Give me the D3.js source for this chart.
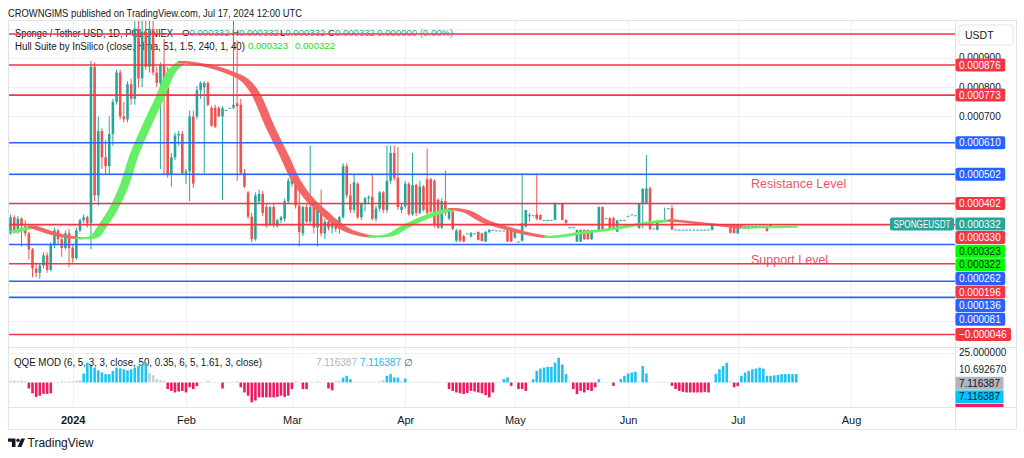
<!DOCTYPE html>
<html>
<head>
<meta charset="utf-8">
<script src="https://cdn.jsdelivr.net/npm/d3@7"></script>
<style>
  body { margin: 0; background: #fff; }
  svg text { font-family: "Liberation Sans", Arial, sans-serif; }
</style>
</head>
<body>
<svg id="chart" width="1024" height="458"></svg>
<script>
// Daily candles, prices in millionths of USDT (µUSDT), first bar Dec 15 2023
var startDay = new Date(2023, 11, 15);

var opens = [
  300,355,310,350,325,300,245,180,165,190, 225,175,260,310,280,250,300,250,215,310,
  345,355,335,870,430,650,560,530,640,750, 850,700,690,810,760,1000,830,990,870,1000,
  850,815,875,800,500,560,635,640,506,512, 700,700,790,800,815,730,730,730,700,722,
  730,730,745,740,506,440,357,280,410,435, 390,330,390,325,345,350,410,470,495,395,
  300,390,340,390,320,380,300,340,320,345, 315,355,530,430,380,470,355,400,420,425,
  350,385,440,380,480,575,490,380,392,470, 365,465,370,460,485,485,480,415,320,410,
  350,375,275,310,290,300,290,300,305,300, 272,305,312,310,310,310,310,310,285,272,
  275,323,360,362,365,363,346,346,346,346, 403,403,346,321,321,272,272,312,312,280,
  312,312,390,352,352,352,306,346,346,360, 365,362,318,403,403,454,317,312,340,340,
  386,386,313,313,313,313,313,313,313,313, 313,313,312,329,329,329,329,329,329,300,
  321,325,325,325,325,325,325,324,325,332, 332,332,332,332,332,332
];
var highs = [
  365,362,360,355,345,305,250,200,200,235, 235,270,320,315,290,310,315,260,320,350,
  365,360,890,885,700,660,620,700,760,860, 860,750,820,830,1040,1040,1040,1040,1040,1040,
  870,885,965,870,575,645,650,650,520,720, 720,805,820,820,820,735,740,735,735,722,
  730,1040,960,760,520,445,370,440,450,445, 400,395,400,350,360,420,490,500,500,440,
  395,400,600,420,400,450,350,360,350,350, 360,540,540,470,500,475,405,425,430,500,
  395,445,445,600,600,600,595,400,480,475, 575,470,480,465,590,490,485,420,420,515,
  385,380,315,315,295,300,305,300,306,302, 308,315,312,310,310,310,312,312,310,272,
  505,380,370,362,505,365,346,346,346,406, 403,405,348,321,321,312,312,313,314,312,
  312,392,392,352,355,356,346,346,346,360, 365,362,404,455,568,460,317,342,340,388,
  386,397,313,313,313,313,313,313,313,313, 313,313,331,329,329,329,329,330,330,330,
  330,325,325,325,325,325,325,325,330,332, 332,332,332,332,332,332
];
var lows = [
  295,300,300,255,290,210,150,150,145,180, 165,170,250,260,220,245,185,200,210,305,
  335,320,245,410,395,520,500,500,600,740, 690,680,680,740,740,800,800,860,850,840,
  800,520,500,490,460,550,600,500,470,410, 455,690,760,505,735,665,660,698,414,722,
  730,725,480,500,455,350,270,275,400,360, 320,325,320,320,335,340,400,460,385,255,
  290,335,330,300,255,290,280,310,300,305, 300,350,420,370,370,350,345,375,400,345,
  340,375,370,370,470,480,380,370,385,360, 360,360,365,375,365,370,320,315,315,360,
  345,310,270,270,270,300,285,300,276,272, 270,300,312,310,310,310,270,270,282,272,
  272,320,340,362,345,345,346,346,346,345, 403,346,334,321,321,270,270,278,278,278,
  312,310,312,352,312,312,305,346,346,360, 365,362,316,318,400,312,317,310,340,338,
  386,312,313,313,313,313,313,313,313,313, 313,313,310,329,329,329,329,300,300,298,
  320,325,325,325,325,325,325,306,324,332, 332,332,332,332,332,332
];
var closes = [
  355,310,350,325,300,245,180,165,190,225, 175,260,310,280,250,300,250,215,310,345,
  355,335,870,430,650,560,530,640,750,850, 700,690,810,760,1000,830,990,870,1000,850,
  815,875,800,500,560,635,640,506,512,700, 470,790,815,815,740,668,665,700,728,722,
  730,740,735,506,460,357,280,430,435,370, 325,390,330,345,355,410,480,495,395,305,
  390,340,390,320,380,300,340,320,345,315, 355,530,430,380,475,355,400,420,425,350,
  385,440,380,480,575,490,390,392,470,365, 465,370,460,380,370,375,330,320,410,370,
  380,315,310,275,272,300,300,300,278,274, 305,312,312,310,310,310,272,272,308,272,
  335,380,362,362,350,347,346,346,346,403, 403,346,335,321,321,312,312,280,280,310,
  312,390,315,352,314,315,344,346,346,360, 365,362,400,452,454,314,317,340,340,342,
  386,313,313,313,313,313,313,313,313,313, 313,313,329,329,329,329,329,302,301,329,
  329,325,325,325,325,325,325,308,329,332, 332,332,332,332,332,332
];

// Hull Suite (HMA) read at key bars; the second band edge is the same line 2 bars later
var hullIdx = [0,5,12,18,22,24,27,30,33,37, 40,43,46,52,57,63,66,70,74,77,
               81,85,87,91,95,98,103,107,112,117, 120,124,129,135,140,146,150,156,163,170,
               176,180,186,192,200,207,215];
var hullVal = [305,323,295,283,289,323,380,460,574,688, 768,853,887,876,859,825,779,665,563,483,
               414,369,346,312,295,289,295,323,352,374, 384,374,340,317,300,287,291,303,314,329,
               340,344,337,329,319,321,323];
var hullLegend = [323, 322];

// Horizontal drawn levels (µUSDT) and their colour kind
var levelPrices = [982, 876, 773, 610, 502, 402, 330, 262, 196, 136, 81, -46];
var levelKinds  = ["r","r","r","b","b","r","r","b","r","b","b","r"];
var lastPrice = 332;

// QQE MOD histogram, one value per bar, and its colour state runs (u up, d down, n neutral)
var qqeVals = [
  1.5,1.5,1,1.5,1, -5,-9,-12,-11,-9.5,-9.5,-9, 0.5,0.5,1,0.5,1,1,1.5,2,
  7.5,16.5,13.8,12.4,10.2,8.3,7,7,9.7,12.4,11.8,11,10.2,11,12.4,13.8,15,16.5,
  8,6,3,2,1.5, -5.5,-7,-8.3,-7.5,-7,-8.3,-4,-5.5,-3, 0.5,0.5,1.5,0.5,0.5,0.5, -5,
  0.5,0.5,0.5,1, -4,-8.3,-11,-16.5,-15,-12.4,-12.4,-12.4,-12.4,-12.4,-12,-11,-12,-11,-5.5,
  1,0.5, -5.5,-5.5, 0.5,0.5,1,0.5,0.5, -5,-6.5, 1,1.5, 4,5.6,2.8,
  0.5,0.5,0.5,0.5,0.5,0.5,0.5,1,2, 5.6,7,4.2,4, 1, 3.3,
  0.5,0.5,0.5,0.5,0.5,0.5,0.5,0.5,0.5,0.5,0.5,
  -5.5,-7,-8.3,-9,-9.6,-8.7,-7,-7.5,-8.3,-9,-10.5,-12.4,-8.3, 0.5,0.5, 2.8,4.2, -2.8, 0.5,
  -5.5,-5.5,-7, 0.5, 2.8,9.7,11.6,12.4,13,13,16.5,20.6,15,7, 0.5,
  -5.5,-9.6,-7,-8.3,-6.3,-7,-4, 2.8, 0.5,0.5,0.5, -2.8, 0.5, 2.8,5.6,7.5,8.3,9, 1, 13.8,7.5,
  0.5,0.5,0.5,0.5,0.5,0.5, -2.8,-5.5,-7,-7.8,-8.3,-8.3,-8.3,-8.3,-8.3,-7.8,-8.3, 0.5,
  7,11,13.8,16.5, 1, -4,-3,
  5.6,8.3,9.7,11,11.6,12.4,11.6,5.6,5.6,6,6.3,7,7,7,7.1,7.1
];
var qqeRuns = [["n",5],["d",7],["n",8],["u",18],["n",5],["d",9],["n",6],["d",1],["n",4],["d",15],
               ["n",2],["d",2],["n",5],["d",2],["n",2],["u",3],["n",9],["u",4],["n",1],["u",1],
               ["n",11],["d",13],["n",2],["u",2],["d",1],["n",1],["d",3],["n",1],["u",10],["n",1],
               ["d",7],["u",1],["n",3],["d",1],["n",1],["u",5],["n",1],["u",2],["n",6],["d",11],
               ["n",1],["u",4],["n",1],["d",2],["u",16]];
var qqeAxisVals = [25, 10.69267];
var qqeTags = [7.116387, 7.116387];

var monthTicks = [new Date(2024,0,1), new Date(2024,1,1), new Date(2024,2,1), new Date(2024,3,1),
                  new Date(2024,4,1), new Date(2024,5,1), new Date(2024,6,1), new Date(2024,7,1)];
var monthLabels = ["2024","Feb","Mar","Apr","May","Jun","Jul","Aug"];

/** Layout and scales */
var frame = {l: 8, r: 1017, t: 20, b: 430},
    axisX = 955, mainB = 347, qqeB = 407, currencyB = 46;
var upCol = "#26a69a", downCol = "#ef5350",
    kindCol = {r: "#f23645", b: "#2962ff"},
    hullUp = "#66ef66", hullDown = "#f26666",
    qqeCol = {u: "#1fc3f3", d: "#ee1a62", n: "#c9ccd3"};

var x = d3.scaleTime().domain([monthTicks[0], monthTicks[7]]).range([72.7, 851]);
var y = d3.scaleLinear().domain([876, -46]).range([65, 334.5]);
var qy = d3.scaleLinear().domain([0, 25]).range([382.5, 352.5]);
function dayX(i){ return x(d3.timeDay.offset(startDay, i)); }
function fmt(p){ return (p < 0 ? "\u2212" : "") + (Math.abs(p) / 1e6).toFixed(6); }
function squeeze(sel, len){ return sel.attr("textLength", len).attr("lengthAdjust", "spacingAndGlyphs"); }

var svg = d3.select("#chart");
svg.append("rect").attr("width", 1024).attr("height", 458).attr("fill", "#fff");

var defs = svg.append("defs");
defs.append("clipPath").attr("id", "clipMain").append("rect")
    .attr("x", frame.l).attr("y", frame.t).attr("width", axisX - frame.l).attr("height", mainB - frame.t);
defs.append("clipPath").attr("id", "clipHull").append("rect")
    .attr("x", frame.l).attr("y", frame.t).attr("width", dayX(opens.length - 1) + 1.5 - frame.l).attr("height", mainB - frame.t);
defs.append("clipPath").attr("id", "clipQqeAxis").append("rect")
    .attr("x", axisX).attr("y", mainB).attr("width", frame.r - axisX).attr("height", qqeB - mainB);

// header
squeeze(svg.append("text").attr("x", 8).attr("y", 13).attr("dy", "0.35em")
    .attr("font-size", "10.5px").attr("fill", "#131722")
    .text("CROWNGIMS published on TradingView.com, Jul 17, 2024 12:00 UTC"), 294);

// grid
var grid = svg.append("g").attr("stroke", "#eef0f5").attr("stroke-width", 1);
grid.selectAll("line.v").data(monthTicks).enter().append("line")
    .attr("x1", function(d){ return Math.round(x(d)) + 0.5; })
    .attr("x2", function(d){ return Math.round(x(d)) + 0.5; })
    .attr("y1", frame.t).attr("y2", qqeB);
grid.selectAll("line.h").data(d3.range(0, 1001, 100)).enter().append("line")
    .attr("x1", frame.l).attr("x2", axisX)
    .attr("y1", function(d){ return Math.round(y(d)) + 0.5; })
    .attr("y2", function(d){ return Math.round(y(d)) + 0.5; });
grid.append("line").attr("x1", frame.l).attr("x2", axisX)
    .attr("y1", Math.round(qy(25)) + 0.5).attr("y2", Math.round(qy(25)) + 0.5);

// legend (drawn under the series, as in the reference)
squeeze(svg.append("text").attr("x", 15).attr("y", 33).attr("dy", "0.35em")
    .attr("font-size", "10px").attr("fill", "#131722")
    .text("Sponge / Tether USD, 1D, POLONIEX"), 158);
var leg1 = svg.append("text").attr("y", 33).attr("dy", "0.35em").attr("font-size", "9.6px").attr("fill", "#131722");
[["O", 182], ["H", 232], ["L", 280], ["C", 328]].forEach(function(k){
    leg1.append("tspan").attr("x", k[1]).text(k[0]);
    leg1.append("tspan").attr("fill", upCol).text(fmt(lastPrice));
});
leg1.append("tspan").attr("x", 377).attr("fill", upCol).text("0.000000 (0.00%)");

squeeze(svg.append("text").attr("x", 15).attr("y", 46).attr("dy", "0.35em")
    .attr("font-size", "10px").attr("fill", "#131722")
    .text("Hull Suite by InSilico (close, Hma, 51, 1.5, 240, 1, 40)"), 230);
var leg2 = svg.append("text").attr("y", 46).attr("dy", "0.35em").attr("font-size", "9.6px").attr("fill", "#22dd22");
leg2.append("tspan").attr("x", 248).text(fmt(hullLegend[0]));
leg2.append("tspan").attr("x", 295).text(fmt(hullLegend[1]));

// candles
var candles = d3.range(opens.length).map(function(i){
    return {i: i, o: opens[i], h: highs[i], l: lows[i], c: closes[i]};
});
var cg = svg.append("g").attr("clip-path", "url(#clipMain)");
cg.selectAll("line.wick").data(candles).enter().append("line")
    .attr("x1", function(d){ return dayX(d.i); })
    .attr("x2", function(d){ return dayX(d.i); })
    .attr("y1", function(d){ return y(d.h); })
    .attr("y2", function(d){ return y(d.l); })
    .attr("stroke", function(d){ return d.c >= d.o ? upCol : downCol; })
    .attr("stroke-width", 1);
cg.selectAll("rect.body").data(candles).enter().append("rect")
    .attr("x", function(d){ return dayX(d.i) - 1.3; })
    .attr("width", 2.6)
    .attr("y", function(d){ return y(Math.max(d.o, d.c)); })
    .attr("height", function(d){ return Math.max(1, Math.abs(y(d.o) - y(d.c))); })
    .attr("fill", function(d){ return d.c >= d.o ? upCol : downCol; });

// Hull band, split into rising / falling runs
var hullKeys = hullIdx.map(function(d, k){ return {i: d, p: hullVal[k]}; });
var runs = [], s = 0;
for (var k = 1; k < hullKeys.length; k++) {
    var dir = Math.sign(hullKeys[k].p - hullKeys[k - 1].p);
    var nextDir = k + 1 < hullKeys.length ? Math.sign(hullKeys[k + 1].p - hullKeys[k].p) : 0;
    if (nextDir !== dir) { runs.push({s: s, e: k, up: dir > 0}); s = k; }
}
var curve = d3.line().curve(d3.curveCatmullRom);
var hg = svg.append("g").attr("clip-path", "url(#clipHull)");
runs.forEach(function(r){
    var seg = hullKeys.slice(r.s, r.e + 1);
    var a = seg.map(function(d){ return [dayX(d.i), y(d.p)]; });
    var b = seg.map(function(d){ return [dayX(d.i + 2), y(d.p)]; }).reverse();
    var col = r.up ? hullUp : hullDown;
    hg.append("path")
        .attr("d", curve(a) + curve(b).replace(/^M/, "L") + "Z")
        .attr("fill", col).attr("stroke", col)
        .attr("stroke-width", 1.8).attr("stroke-linejoin", "round");
});

// annotations
svg.append("text").attr("x", 751).attr("y", y(471)).attr("dy", "0.35em")
    .attr("font-size", "12.5px").attr("fill", "#ef5566").text("Resistance Level");
svg.append("text").attr("x", 751).attr("y", y(211)).attr("dy", "0.35em")
    .attr("font-size", "12.5px").attr("fill", "#ef5566").text("Support Level");

// levels
var levels = levelPrices.map(function(p, k){ return {p: p, kind: levelKinds[k]}; });
svg.selectAll("line.level").data(levels).enter().append("line")
    .attr("x1", frame.l).attr("x2", axisX)
    .attr("y1", function(d){ return y(d.p); })
    .attr("y2", function(d){ return y(d.p); })
    .attr("stroke", function(d){ return kindCol[d.kind]; })
    .attr("stroke-width", 1.6);

// frame and pane separators
var fr = svg.append("g").attr("stroke", "#e0e3eb").attr("fill", "none");
fr.append("rect").attr("x", frame.l + 0.5).attr("y", frame.t + 0.5)
    .attr("width", frame.r - frame.l - 1).attr("height", frame.b - frame.t - 1);
fr.append("line").attr("x1", axisX + 0.5).attr("x2", axisX + 0.5).attr("y1", frame.t).attr("y2", frame.b);
fr.append("line").attr("x1", frame.l).attr("x2", frame.r).attr("y1", mainB + 0.5).attr("y2", mainB + 0.5);
fr.append("line").attr("x1", frame.l).attr("x2", frame.r).attr("y1", qqeB + 0.5).attr("y2", qqeB + 0.5);

// coloured price tags, stacked so they do not overlap; the one under the currency box is hidden
var tags = levels.map(function(d){ return {p: d.p, fill: kindCol[d.kind], ink: "#fff"}; })
    .concat([{p: lastPrice, fill: upCol, ink: "#fff"},
             {p: hullLegend[0], fill: "#00ff00", ink: "#131722"},
             {p: hullLegend[1], fill: "#00ff00", ink: "#131722"}]);
tags.sort(function(a, b){ return b.p - a.p || (a.fill === upCol ? -1 : 1); });
var prevY = -Infinity;
tags.forEach(function(t){ t.y = Math.max(y(t.p), prevY + 13.6); prevY = t.y; });
tags = tags.filter(function(t){ return t.y > currencyB; });

// price axis grid labels, skipped where a tag covers them
var gridVals = d3.range(0, 1001, 100).filter(function(v){
    var gy = y(v);
    return gy > currencyB + 4 && tags.every(function(t){ return Math.abs(t.y - gy) > 6; });
});
svg.selectAll("text.pgrid").data(gridVals).enter().append("text")
    .attr("x", 959).attr("y", function(d){ return y(d); }).attr("dy", "0.35em")
    .attr("font-size", "10px").attr("fill", "#131722").text(fmt);

var tg = svg.selectAll("g.tag").data(tags).enter().append("g");
var tagText = tg.append("text").attr("x", 959).attr("y", function(d){ return d.y; }).attr("dy", "0.35em")
    .attr("font-size", "10px").attr("fill", function(d){ return d.ink; })
    .text(function(d){ return fmt(d.p); });
tg.insert("rect", "text").attr("x", axisX + 0.5).attr("height", 13).attr("rx", 2)
    .attr("width", function(d){ return Math.max(48, this.parentNode.querySelector("text").getComputedTextLength() + 8); })
    .attr("y", function(d){ return d.y - 6.5; })
    .attr("fill", function(d){ return d.fill; });

// symbol tag on the last price
var symY = tags.filter(function(t){ return t.fill === upCol; })[0].y;
svg.append("rect").attr("x", 890).attr("y", symY - 6.5).attr("width", 64).attr("height", 13).attr("rx", 2).attr("fill", upCol);
squeeze(svg.append("text").attr("x", 893.5).attr("y", symY).attr("dy", "0.35em")
    .attr("font-size", "10px").attr("fill", "#fff").text("SPONGEUSDT"), 57);

// currency box
svg.append("rect").attr("x", 959).attr("y", 25).attr("width", 54).attr("height", 20).attr("rx", 3)
    .attr("fill", "#fff").attr("stroke", "#e0e3eb");
svg.append("text").attr("x", 965).attr("y", 35).attr("dy", "0.35em")
    .attr("font-size", "10.5px").attr("fill", "#131722").text("USDT");

// QQE pane
squeeze(svg.append("text").attr("x", 14).attr("y", 362).attr("dy", "0.35em")
    .attr("font-size", "10px").attr("fill", "#131722")
    .text("QQE MOD (6, 5, 3, 3, close, 50, 0.35, 6, 5, 1.61, 3, close)"), 248);
var qt = svg.append("text").attr("y", 362).attr("dy", "0.35em").attr("font-size", "10px");
qt.append("tspan").attr("x", 316).attr("fill", "#b2b5be").text(qqeTags[0].toFixed(6));
qt.append("tspan").attr("x", 360).attr("fill", "#1fb8ee").text(qqeTags[1].toFixed(6));
qt.append("tspan").attr("x", 404).attr("fill", "#50535e").text("\u2205");

var qqeState = qqeRuns.map(function(r){ return r[0].repeat(r[1]); }).join("");
var bars = qqeVals.map(function(v, i){ return {i: i, v: v, s: qqeState[i]}; });
svg.append("g").selectAll("rect").data(bars).enter().append("rect")
    .attr("x", function(d){ return dayX(d.i) - 1.3; })
    .attr("width", 2.6)
    .attr("y", function(d){ return Math.min(qy(0), qy(d.v)); })
    .attr("height", function(d){ return Math.abs(qy(d.v) - qy(0)); })
    .attr("fill", function(d){ return qqeCol[d.s]; });

svg.selectAll("text.qaxis").data(qqeAxisVals).enter().append("text")
    .attr("x", 959).attr("y", function(d){ return qy(d); }).attr("dy", "0.35em")
    .attr("font-size", "10px").attr("fill", "#131722")
    .text(function(d){ return d.toFixed(6); });
var qg = svg.append("g").attr("clip-path", "url(#clipQqeAxis)");
[["#b2b5be", "#131722"], ["#00c3ff", "#131722"]].forEach(function(c, k){
    var ty = qy(qqeAxisVals[1]) + 13.6 * (k + 1);
    qg.append("rect").attr("x", axisX + 0.5).attr("y", ty - 6.5).attr("width", 48).attr("height", 13).attr("fill", c[0]);
    qg.append("text").attr("x", 959).attr("y", ty).attr("dy", "0.35em")
        .attr("font-size", "10px").attr("fill", c[1]).text(qqeTags[k].toFixed(6));
});
qg.append("rect").attr("x", axisX + 0.5).attr("y", qy(qqeAxisVals[1]) + 13.6 * 3 - 6.5)
    .attr("width", 48).attr("height", 13).attr("fill", "#ee1a62");

// time axis
var xAxis = d3.axisBottom(x).tickValues(monthTicks).tickSize(0)
    .tickFormat(function(d, i){ return monthLabels[i]; });
var xg = svg.append("g").attr("transform", "translate(0," + (qqeB + 6) + ")").call(xAxis);
xg.select(".domain").remove();
xg.selectAll("text").attr("font-size", "11px").attr("fill", "#131722")
    .attr("font-family", "Liberation Sans, Arial, sans-serif")
    .attr("font-weight", function(d, i){ return i === 0 ? "bold" : "normal"; });

// TradingView mark
var logo = svg.append("g").attr("fill", "#131722");
logo.append("path").attr("d", "M8,438.5h7.5v8.5h-3.6v-5.3h-3.9z");
logo.append("circle").attr("cx", 18).attr("cy", 440.2).attr("r", 1.7);
logo.append("path").attr("d", "M21.2,438.5h3.8l-3.6,8.5h-3.8z");
svg.append("text").attr("x", 27.5).attr("y", 443).attr("dy", "0.35em")
    .attr("font-size", "12px").attr("fill", "#131722").text("TradingView");
</script>
</body>
</html>
